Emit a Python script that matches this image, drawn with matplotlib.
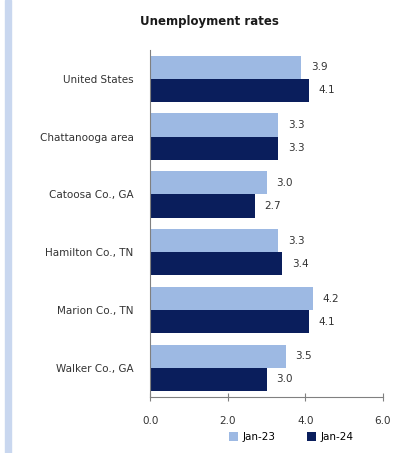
import matplotlib.pyplot as plt
import numpy as np
from matplotlib.patches import Rectangle

plt.rcParams['font.family'] = ['DejaVu Sans']

areas = ["United States", "Chattanooga area", "Catoosa Co., GA",
         "Hamilton Co., TN", "Marion Co., TN", "Walker Co., GA"]
jan23 = [3.9, 3.3, 3.0, 3.3, 4.2, 3.5]
jan24 = [4.1, 3.3, 2.7, 3.4, 4.1, 3.0]
series_names = ["Jan-23", "Jan-24"]
xticks = [0.0, 2.0, 4.0, 6.0]

light = "#9DB9E3"
dark = "#0A1E5C"
txt = "#333333"

fig = plt.figure(figsize=(3.96, 4.53), dpi=100)
# thin tinted strip down the left edge
fig.patches.append(Rectangle((0.013, 0), 0.015, 1, transform=fig.transFigure,
                             color="#C9D7EF", zorder=0))

ax = fig.add_axes([0.379, 0.124, 0.588, 0.766])
y = np.arange(len(areas))
h = 0.4
b1 = ax.barh(y - h / 2, jan23, height=h, color=light, label=series_names[0])
b2 = ax.barh(y + h / 2, jan24, height=h, color=dark, label=series_names[1])

for bars, vals in ((b1, jan23), (b2, jan24)):
    for bar, v in zip(bars, vals):
        ax.text(v + 0.25, bar.get_y() + bar.get_height() / 2, f"{v:.1f}",
                va="center", ha="left", fontsize=7.5, color=txt)

ax.set_ylim(len(areas) - 0.5, -0.5)
ax.set_xlim(0, 6)
ax.set_yticks(y)
ax.set_yticklabels(areas, fontsize=7.5, color=txt)
ax.set_xticks(xticks)
ax.set_xticklabels([f"{t:.1f}" for t in xticks], fontsize=7.5, color=txt)
ax.tick_params(axis="y", length=0, pad=12)
ax.tick_params(axis="x", direction="inout", length=6, color="#808080", pad=11)
for s in ("top", "right"):
    ax.spines[s].set_visible(False)
ax.spines["left"].set_color("#808080")
ax.spines["bottom"].set_color("#808080")

fig.text(0.53, 0.953, "Unemployment rates", ha="center", va="center",
         fontsize=8.5, fontweight="bold", color="#1a1a1a")

fig.legend(handles=[b1, b2], loc="center", bbox_to_anchor=(0.735, 0.035),
           ncol=2, frameon=False, fontsize=7.5, handlelength=0.9,
           handleheight=0.9, columnspacing=3.0, handletextpad=0.4)

fig.savefig("out.png", dpi=100)
